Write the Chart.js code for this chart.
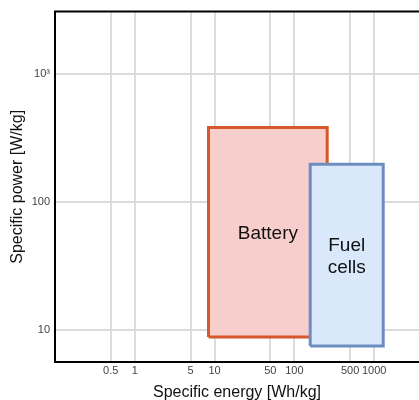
<!DOCTYPE html>
<html>
<head>
<meta charset="utf-8">
<script src="https://cdn.jsdelivr.net/npm/chart.js@4.4.1/dist/chart.umd.min.js"></script>
<style>
  body { margin: 0; background: #fff; }
  canvas { display: block; }
</style>
</head>
<body>
<canvas id="ragone" width="419" height="400"></canvas>
<script>
// Ragone plot values (Wh/kg, W/kg)
const regionNames = ['Battery', 'Fuel cells'];
const batteryEnergy = [8.4, 258];
const batteryPower = [8.8, 385];
const fuelEnergy = [158, 1300];
const fuelPower = [7.5, 198];

const xTicks = [0.5, 1, 5, 10, 50, 100, 500, 1000];
const xTickLabels = ['0.5', '1', '5', '10', '50', '100', '500', '1000'];
const yTicks = [10, 100, 1000];
const yTickLabels = ['10', '100', '10\u00B3'];

// closed outline of a box from its energy/power ranges
function boxPoints(e, p) {
    return [
        { x: e[0], y: p[0] },
        { x: e[1], y: p[0] },
        { x: e[1], y: p[1] },
        { x: e[0], y: p[1] },
        { x: e[0], y: p[0] }
    ];
}

const boxLabels = {
    id: 'boxLabels',
    afterDatasetsDraw(chart) {
        const ctx = chart.ctx;
        const xs = chart.scales.x, ys = chart.scales.y;
        const boxes = [[batteryEnergy, batteryPower, ['Battery']], [fuelEnergy, fuelPower, ['Fuel', 'cells']]];
        ctx.save();
        ctx.fillStyle = '#111';
        ctx.font = '19px "Liberation Sans", Arial, sans-serif';
        ctx.textAlign = 'center';
        ctx.textBaseline = 'middle';
        boxes.forEach(([e, p, lines]) => {
            const cx = (xs.getPixelForValue(e[0]) + xs.getPixelForValue(e[1])) / 2;
            const cy = (ys.getPixelForValue(p[0]) + ys.getPixelForValue(p[1])) / 2 + 2;
            lines.forEach((t, i) => {
                ctx.fillText(t, cx, cy + (i - (lines.length - 1) / 2) * 22);
            });
        });
        ctx.restore();
    },
    afterDraw(chart) {
        // top frame line
        const { ctx, chartArea } = chart;
        ctx.save();
        ctx.strokeStyle = '#000';
        ctx.lineWidth = 2;
        ctx.beginPath();
        ctx.moveTo(chartArea.left - 1, chartArea.top);
        ctx.lineTo(chartArea.right, chartArea.top);
        ctx.stroke();
        ctx.restore();
    }
};

const ctx = document.getElementById('ragone').getContext('2d');
new Chart(ctx, {
    type: 'line',
    data: {
        datasets: [{
            label: regionNames[0],
            data: boxPoints(batteryEnergy, batteryPower),
            borderColor: '#d6582a',
            backgroundColor: '#f8cecc',
            borderWidth: 3,
            fill: 'shape',
            pointRadius: 0,
            tension: 0,
            order: 2
        }, {
            label: regionNames[1],
            data: boxPoints(fuelEnergy, fuelPower),
            borderColor: '#6c8ebf',
            backgroundColor: '#dae8fc',
            borderWidth: 3,
            fill: 'shape',
            pointRadius: 0,
            tension: 0,
            order: 1
        }]
    },
    options: {
        responsive: false,
        animation: false,
        layout: { padding: { top: 11, right: 0, left: 0, bottom: 0 } },
        plugins: {
            legend: { display: false },
            tooltip: { enabled: false }
        },
        scales: {
            x: {
                type: 'logarithmic',
                min: 0.1,
                max: 3650,
                afterBuildTicks: s => { s.ticks = xTicks.map(v => ({ value: v })); },
                afterFit: s => { s.height = 38; },
                ticks: {
                    autoSkip: false,
                    maxRotation: 0,
                    padding: 2,
                    color: '#444',
                    font: { size: 11, family: '"Liberation Sans", Arial, sans-serif' },
                    callback: (v, i) => xTickLabels[i]
                },
                grid: { color: '#dcdcdc', lineWidth: 2, drawTicks: false },
                border: { display: true, color: '#000', width: 2 },
                title: {
                    display: true,
                    text: 'Specific energy [Wh/kg]',
                    color: '#111',
                    padding: { top: 0, bottom: 0 },
                    font: { size: 16, lineHeight: 0.88, family: '"Liberation Sans", Arial, sans-serif' }
                }
            },
            y: {
                type: 'logarithmic',
                min: 5.62,
                max: 3100,
                afterBuildTicks: s => { s.ticks = yTicks.map(v => ({ value: v })); },
                afterFit: s => { s.width = 55; },
                ticks: {
                    padding: 5,
                    color: '#444',
                    font: { size: 11, family: '"Liberation Sans", Arial, sans-serif' },
                    callback: (v, i) => yTickLabels[i]
                },
                grid: { color: '#dcdcdc', lineWidth: 2, drawTicks: false },
                border: { display: true, color: '#000', width: 2 },
                title: {
                    display: true,
                    text: 'Specific power [W/kg]',
                    color: '#111',
                    padding: { top: 10, bottom: 0 },
                    font: { size: 16, lineHeight: 1, family: '"Liberation Sans", Arial, sans-serif' }
                }
            }
        }
    },
    plugins: [boxLabels]
});
</script>
</body>
</html>
